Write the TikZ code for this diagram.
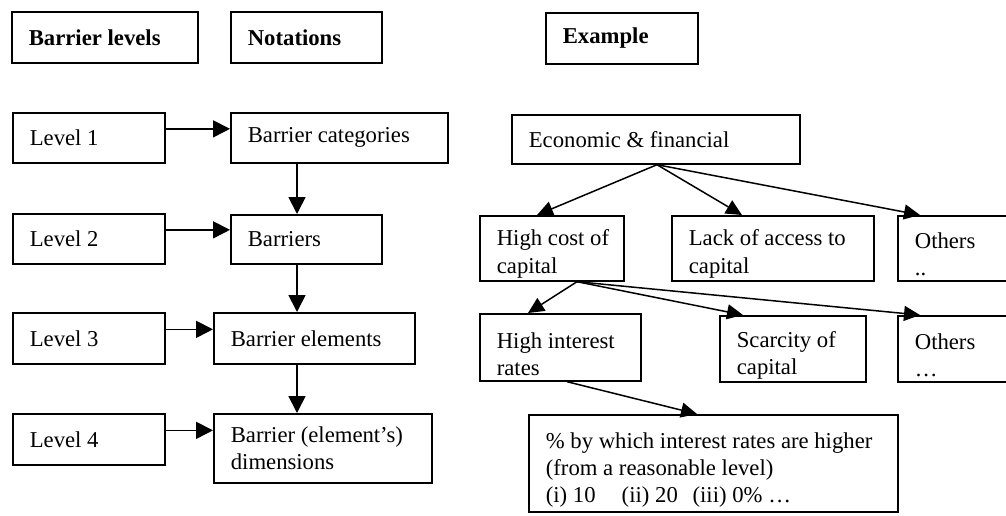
\documentclass[tikz,border=0pt]{standalone}
\usepackage{fontspec}
\setmainfont{Liberation Serif}
\usetikzlibrary{arrows.meta,calc}
\begin{document}
\begin{tikzpicture}[x=1pt,y=-1pt,
  box/.style={draw, line width=1.7pt, anchor=north west, inner xsep=17pt, inner ysep=0pt,
    align=flush left, font=\fontsize{22.7pt}{27.3pt}\selectfont},
  hbox/.style={box, font=\fontsize{22.7pt}{27.3pt}\selectfont\bfseries},
  arr/.style={line width=1.7pt, -{Triangle[length=17pt,width=17pt]}},
  darr/.style={line width=1.5pt, -{Triangle[length=16pt,width=15pt]}}]
\clip (0,0) rectangle (1006,515);
\useasboundingbox (0,0) rectangle (1006,515);
% headers
\node[hbox, text width=152pt, minimum height=51pt] (hA) at (11,11) {Barrier levels};
\node[hbox, text width=117pt, minimum height=51pt] (hB) at (230,11) {Notations};
\node[hbox, text width=118pt, minimum height=51pt] (hC) at (545,12) {Example};
% levels
\node[box, text width=118pt, minimum height=50pt] (l1) at (12,112) {Level 1};
\node[box, text width=118pt, minimum height=50pt] (l2) at (12,213) {Level 2};
\node[box, text width=118pt, minimum height=51pt] (l3) at (12,312) {Level 3};
\node[box, text width=118pt, minimum height=51pt] (l4) at (12,413) {Level 4};
% notations
\node[box, text width=183pt, minimum height=50pt] (n1) at (230,112) {Barrier categories};
\node[box, text width=117pt, minimum height=49pt] (n2) at (230,214) {Barriers};
\node[box, text width=167pt, minimum height=51pt] (n3) at (213,312) {Barrier elements};
\node[box, text width=184pt, minimum height=69pt] (n4) at (213,413) {Barrier (element’s)\\dimensions};
% example
\node[box, text width=254pt, minimum height=49pt] (e0) at (511,114) {Economic \& financial};
\node[box, text width=110pt, minimum height=65pt, text height=27pt] (e1) at (479,215) {\mbox{High cost of}\\capital};
\node[box, text width=168pt, minimum height=65pt, text height=27pt] (e2) at (671,215) {Lack of access to\\capital};
\node[box, text width=96pt, minimum height=65pt, text height=27pt] (e3) at (897,215) {Others\\..};
\node[box, text width=127pt, minimum height=67pt, text height=29pt] (f1) at (479,313) {High interest\\rates};
\node[box, text width=112pt, minimum height=66pt, text height=29pt] (f2) at (719,315) {Scarcity of\\capital};
\node[box, text width=96pt, minimum height=66pt, text height=29pt] (f3) at (897,315) {Others\\\ldots};
\node[box, text width=335pt, minimum height=97pt, text height=29pt] (g1) at (528,414) {\% by which interest rates are higher\\(from a reasonable level)\\(i) 10\hspace{0.9em} (ii) 20\hspace{0.4em} (iii) 0\% \ldots};
% level arrows
\foreach \a/\b in {l1/n1,l2/n2,l3/n3,l4/n4}
  \draw[arr] ([yshift=9pt]\a.east) -- ([yshift=9pt]\a.east -| \b.west);
% notation arrows
\draw[arr] ([xshift=67pt]n1.south west) -- ([xshift=67pt]n1.south west |- n2.north);
\draw[arr] ([xshift=67pt]n2.south west) -- ([xshift=67pt]n2.south west |- n3.north);
\draw[arr] ([xshift=84pt]n3.south west) -- ([xshift=84pt]n3.south west |- n4.north);
% example arrows
\coordinate (e0s) at ([xshift=146pt]e0.south west);
\draw[darr] (e0s) -- ([xshift=58pt]e1.north west);
\draw[darr] (e0s) -- ([xshift=71pt]e2.north west);
\draw[darr] (e0s) -- ([xshift=23pt]e3.north west);
\coordinate (e1s) at ([xshift=98pt]e1.south west);
\draw[darr] (e1s) -- ([xshift=49pt]f1.north west);
\draw[darr] (e1s) -- ([xshift=24pt]f2.north west);
\draw[darr] (e1s) -- ([xshift=23pt]f3.north west);
\draw[darr] ([xshift=88pt]f1.south west) -- ([xshift=169pt]g1.north west);
\end{tikzpicture}
\end{document}
